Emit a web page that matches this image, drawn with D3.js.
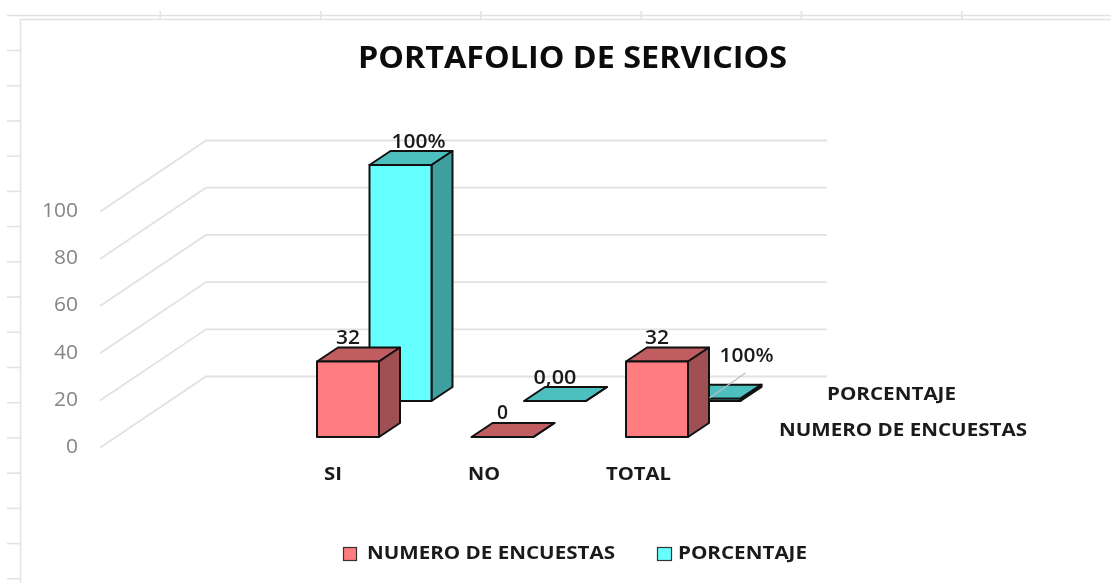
<!DOCTYPE html>
<html><head><meta charset="utf-8">
<script src="https://cdn.jsdelivr.net/npm/d3@7/dist/d3.min.js"></script>
<style>html,body{margin:0;padding:0;background:#fff;overflow:hidden}svg{display:block;filter:blur(.5px)}</style>
</head><body><svg id="c" width="1111" height="583"></svg>
<script>
const title = "PORTAFOLIO DE SERVICIOS";
const categories = ["SI", "NO", "TOTAL"];
const seriesNames = ["NUMERO DE ENCUESTAS", "PORCENTAJE"];
const numeroValues = [32, 0, 32];
const porcentajeValues = [100, 0, 1];
const numeroLabels = ["32", "0", "32"];
const porcentajeLabels = ["100%", "0,00", "100%"];
const yTicks = [0, 20, 40, 60, 80, 100];

const svg = d3.select("#c");
const FONT = "'Open Sans', Lato, sans-serif";
const ink = "#1a1a1a";

// spreadsheet ruler behind the chart
const rulerX = d3.range(1, 7), rulerY = d3.range(0, 16);
const rx = d3.scaleLinear().domain([0, 1]).range([0, 160.3]);
const ry = d3.scaleLinear().domain([0, 1]).range([50.5, 85.72]);
const ruler = svg.append("g").attr("stroke", "#e3e3e3").attr("stroke-width", 1.6);
ruler.append("line").attr("x1", 7).attr("x2", 1111).attr("y1", 15.5).attr("y2", 15.5);
ruler.append("line").attr("x1", 20.5).attr("x2", 1111).attr("y1", 19.5).attr("y2", 19.5);
ruler.append("line").attr("x1", 20.5).attr("x2", 20.5).attr("y1", 19).attr("y2", 583);
ruler.selectAll(".tx").data(rulerX).join("line").attr("x1", rx).attr("x2", rx).attr("y1", 11).attr("y2", 19);
ruler.selectAll(".ty").data(rulerY).join("line").attr("x1", 7).attr("x2", 20).attr("y1", ry).attr("y2", ry);

// 3D projection
const y = d3.scaleLinear().domain([0, 100]).range([0, 236]);
const x = d3.scalePoint().domain(categories).range([317, 626]);
const barW = 62, depthX = 21, depthY = 14, baseY = 437;
const seriesShift = d3.scaleOrdinal().domain(seriesNames).range([[0, 0], [52.5, -36]]);

// text helper: fixed left edge and rendered width
function fit(sel, text, left, width, cy, size, weight, fill) {
  return sel.append("text").attr("x", left).attr("y", cy).attr("dy", ".36em")
    .attr("textLength", width).attr("lengthAdjust", "spacingAndGlyphs")
    .attr("font-family", FONT).attr("font-size", size).attr("font-weight", weight)
    .attr("fill", fill).text(text);
}

// gridlines on wall + floor
const gridY = d3.scaleLinear().domain([0, 100]).range([376.5, 140.5]);
const grid = svg.append("g").attr("fill", "none").attr("stroke", "#e2e2e2").attr("stroke-width", 1.8);
grid.selectAll("path").data(yTicks).join("path")
  .attr("d", t => d3.line()([[100, gridY(t) + 71.2], [206, gridY(t)], [827, gridY(t)]]));
const tickG = svg.append("g");
yTicks.forEach(t => {
  const w = String(t).length * 12;
  fit(tickG, String(t), 78 - w, w, gridY(t) + 69.5, 19.5, 500, "#858585");
});

function drawBars(name, values, cols) {
  const [sx, sy] = seriesShift(name);
  const g = svg.append("g").attr("stroke", "#111").attr("stroke-width", 2).attr("stroke-linejoin", "round");
  categories.forEach((c, i) => {
    const x0 = x(c) + sx, x1 = x0 + barW, yb = baseY + sy, yt = yb - y(values[i]);
    const poly = pts => d3.line()(pts) + "Z";
    g.append("path").attr("fill", cols.top).attr("d", poly([[x0, yt], [x0 + depthX, yt - depthY], [x1 + depthX, yt - depthY], [x1, yt]]));
    g.append("path").attr("fill", cols.side).attr("d", poly([[x1, yt], [x1 + depthX, yt - depthY], [x1 + depthX, yb - depthY], [x1, yb]]));
    g.append("rect").attr("fill", cols.front).attr("x", x0).attr("y", yt).attr("width", barW).attr("height", y(values[i]));
  });
}
drawBars(seriesNames[1], porcentajeValues, { front: "#66FFFF", top: "#4DBFBF", side: "#3F9F9F" });
drawBars(seriesNames[0], numeroValues, { front: "#FF7C80", top: "#BF5D60", side: "#A04F52" });

// leader line for the moved TOTAL label
const tot = categories.indexOf("TOTAL");
const lx = x(categories[tot]) + seriesShift(seriesNames[1])[0] + barW;
svg.append("line").attr("x1", lx - 31).attr("y1", 398).attr("x2", lx + 5).attr("y2", 373)
  .attr("stroke", "#bdbdbd").attr("stroke-width", 1.3);

// data labels
const labelW = s => s.length === 1 ? 11 : s.length === 2 ? 24 : s.includes(",") ? 43 : 54;
const g1 = svg.append("g"), g2 = svg.append("g");
categories.forEach((c, i) => {
  const s1 = numeroLabels[i], w1 = labelW(s1);
  fit(g1, s1, x(c) + barW / 2 - w1 / 2, w1, baseY - y(numeroValues[i]) - 25, 19.5, 600, ink);
  const nudge = i === 0 ? [18, 0] : i === tot ? [37, -19] : [0, 0];
  const s2 = porcentajeLabels[i], w2 = labelW(s2);
  fit(g2, s2, x(c) + 52.5 + barW / 2 + nudge[0] - w2 / 2, w2,
      baseY - 36 - y(porcentajeValues[i]) - 24.5 + nudge[1], 19.5, 600, ink);
});

// category labels
const catLeft = [324, 468, 606], catWidth = [18, 32, 65];
const cg = svg.append("g");
categories.forEach((c, i) => fit(cg, c, catLeft[i], catWidth[i], 473, 18.5, 700, ink));

// series-axis labels
const ag = svg.append("g");
fit(ag, seriesNames[1], 827, 129, 393, 18.5, 700, ink);
fit(ag, seriesNames[0], 779, 248, 429, 18.5, 700, ink);

// title
fit(svg, title, 358, 429, 57, 30, 700, "#0c0c0c");

// legend
const lg = svg.append("g");
lg.append("rect").attr("x", 343.5).attr("y", 547.5).attr("width", 13).attr("height", 13)
  .attr("fill", "#FF7C80").attr("stroke", "#333").attr("stroke-width", 1.2);
fit(lg, seriesNames[0], 367, 248, 552.5, 18.5, 700, ink);
lg.append("rect").attr("x", 657.5).attr("y", 547.5).attr("width", 14).attr("height", 13)
  .attr("fill", "#66FFFF").attr("stroke", "#333").attr("stroke-width", 1.2);
fit(lg, seriesNames[1], 678, 129, 552.5, 18.5, 700, ink);
</script></body></html>
